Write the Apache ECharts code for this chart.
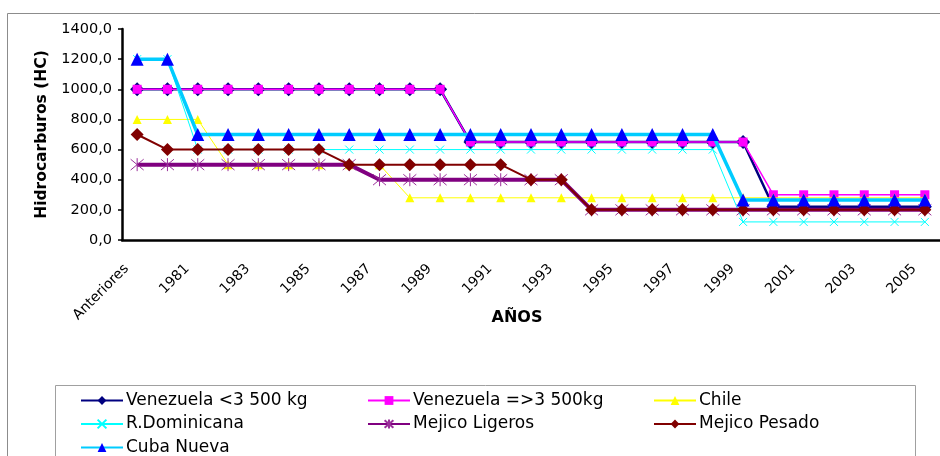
<!DOCTYPE html>
<html>
<head>
<meta charset="utf-8">
<script src="https://cdn.jsdelivr.net/npm/echarts@6/dist/echarts.min.js"></script>
<style>html,body{margin:0;padding:0;background:#fff}#c{width:940px;height:456px}</style>
</head>
<body>
<div id="c"></div>
<script>
const categories = ['Anteriores','1980','1981','1982','1983','1984','1985','1986','1987','1988','1989','1990','1991','1992','1993','1994','1995','1996','1997','1998','1999','2000','2001','2002','2003','2004','2005'];
const seriesNames = ['Venezuela <3 500 kg','Venezuela =>3 500kg','Chile','R.Dominicana','Mejico Ligeros','Mejico Pesado','Cuba Nueva'];
const venezuelaMenor = [1000,1000,1000,1000,1000,1000,1000,1000,1000,1000,1000,650,650,650,650,650,650,650,650,650,650,220,220,220,220,220,220];
const venezuelaMayor = [1000,1000,1000,1000,1000,1000,1000,1000,1000,1000,1000,650,650,650,650,650,650,650,650,650,650,300,300,300,300,300,300];
const chile = [800,800,800,500,500,500,500,500,500,280,280,280,280,280,280,280,280,280,280,280,280,280,280,280,280,280,280];
const rDominicana = [1200,1200,600,600,600,600,600,600,600,600,600,600,600,600,600,600,600,600,600,600,120,120,120,120,120,120,120];
const mejicoLigeros = [500,500,500,500,500,500,500,500,400,400,400,400,400,400,400,200,200,200,200,200,200,200,200,200,200,200,200];
const mejicoPesado = [700,600,600,600,600,600,600,500,500,500,500,500,500,400,400,200,200,200,200,200,200,200,200,200,200,200,200];
const cubaNueva = [1200,1200,700,700,700,700,700,700,700,700,700,700,700,700,700,700,700,700,700,700,265,265,265,265,265,265,265];

const xMark = 'path://M0,0L10,10M10,0L0,10';
const asterisk = 'path://M0,0L10,10M10,0L0,10M5,-1L5,11';

const chart = echarts.init(document.getElementById('c'));
const legendText = {fontFamily:'DejaVu Sans', fontSize:17, color:'#000', lineHeight:16, padding:[0,0,0,-2]};
const legendBase = {orient:'vertical', itemWidth:42, itemHeight:11, itemGap:6.5, height:120, textStyle:legendText, selectedMode:false, padding:0};
chart.setOption({
  animation:false,
  backgroundColor:'#fff',
  grid:{left:122, top:29, right:0, bottom:216, containLabel:false},
  legend:[
    Object.assign({left:80, top:392, data:[seriesNames[0], seriesNames[3], seriesNames[6]]}, legendBase),
    Object.assign({left:367, top:392, data:[seriesNames[1], seriesNames[4]]}, legendBase),
    Object.assign({left:653, top:392, data:[seriesNames[2], seriesNames[5]]}, legendBase)
  ],
  graphic:[
    {type:'rect', shape:{x:7.5, y:13.5, width:940, height:460}, style:{fill:'none', stroke:'#8c8c8c', lineWidth:1}, silent:true},
    {type:'rect', shape:{x:55.5, y:385.5, width:860, height:80}, style:{fill:'none', stroke:'#a0a0a0', lineWidth:1}, silent:true}
  ],
  xAxis:{
    type:'category', data:categories, boundaryGap:true,
    name:'AÑOS', nameLocation:'middle', nameGap:70, nameMoveOverlap:false,
    nameTextStyle:{fontFamily:'DejaVu Sans', fontWeight:'bold', fontSize:16, color:'#000', padding:[0,28,0,0]},
    axisLine:{lineStyle:{color:'#000', width:2.5}},
    axisTick:{interval:0, length:4, lineStyle:{color:'#000', width:1.5}},
    axisLabel:{interval:1, rotate:45, margin:16, padding:[0,15,0,0], fontFamily:'DejaVu Sans', fontSize:14, color:'#000'},
    splitLine:{show:false}
  },
  yAxis:{
    type:'value', min:0, max:1400, interval:200,
    name:'Hidrocarburos (HC)', nameLocation:'middle', nameGap:72, nameMoveOverlap:false,
    nameTextStyle:{fontFamily:'DejaVu Sans', fontWeight:'bold', fontSize:15.5, color:'#000'},
    axisLine:{show:true, lineStyle:{color:'#000', width:2.5}},
    axisTick:{show:true, length:4, lineStyle:{color:'#000', width:1.5}},
    axisLabel:{margin:10, fontFamily:'DejaVu Sans', fontSize:14.5, color:'#000', formatter:v=>v.toFixed(1).replace('.',',')},
    splitLine:{show:false}
  },
  series:[
    {name:seriesNames[0], type:'line', data:venezuelaMenor, symbol:'diamond', symbolSize:14, itemStyle:{color:'#000080'}, lineStyle:{color:'#000080', width:2.5}, z:2},
    {name:seriesNames[1], type:'line', data:venezuelaMayor, symbol:'rect', symbolSize:9, itemStyle:{color:'#ff00ff'}, lineStyle:{color:'#ff00ff', width:1.5}, z:3},
    {name:seriesNames[2], type:'line', data:chile, symbol:'triangle', symbolSize:9, itemStyle:{color:'#ffff00'}, lineStyle:{color:'#ffff00', width:1}, z:4},
    {name:seriesNames[3], type:'line', data:rDominicana, symbol:xMark, symbolSize:8, itemStyle:{color:'#00ffff', borderColor:'#00ffff', borderWidth:1}, lineStyle:{color:'#00ffff', width:1}, z:5},
    {name:seriesNames[4], type:'line', data:mejicoLigeros, symbol:asterisk, symbolSize:13, itemStyle:{color:'#800080', borderColor:'#9b309b', borderWidth:1}, lineStyle:{color:'#800080', width:4}, z:6},
    {name:seriesNames[5], type:'line', data:mejicoPesado, symbol:'diamond', symbolSize:13, itemStyle:{color:'#800000'}, lineStyle:{color:'#800000', width:2}, z:7},
    {name:seriesNames[6], type:'line', data:cubaNueva, symbol:'triangle', symbolSize:13, itemStyle:{color:'#0000ff'}, lineStyle:{color:'#00ccff', width:3.5}, z:8}
  ]
});
</script>
</body>
</html>
